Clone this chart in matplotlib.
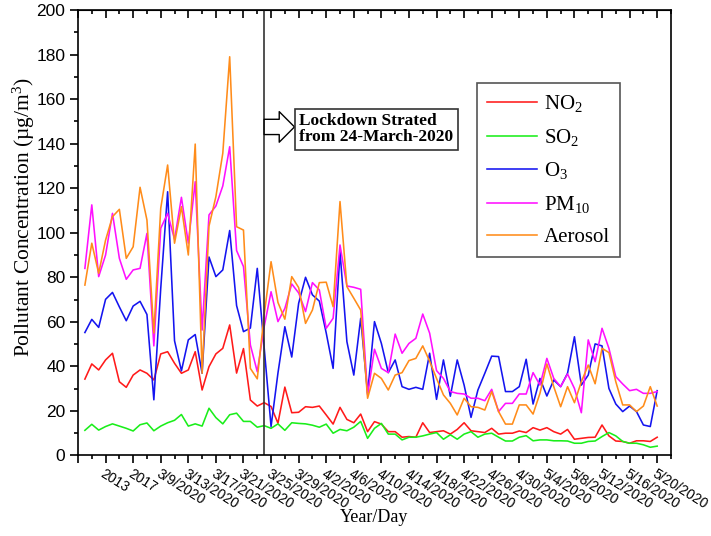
import numpy as np
import matplotlib
matplotlib.use('Agg')
import matplotlib.pyplot as plt
from matplotlib.ticker import MultipleLocator

plt.rcParams['font.family'] = 'Liberation Sans'
plt.rcParams['mathtext.fontset'] = 'custom'
plt.rcParams['mathtext.rm'] = 'Liberation Serif'
plt.rcParams['mathtext.it'] = 'Liberation Serif:italic'

# x tick labels, one every 4 points (first tick has no label)
tick_labels = ['', '2013', '2017', '3/9/2020', '3/13/2020', '3/17/2020', '3/21/2020',
               '3/25/2020', '3/29/2020', '4/2/2020', '4/6/2020', '4/10/2020',
               '4/14/2020', '4/18/2020', '4/22/2020', '4/26/2020', '4/30/2020',
               '5/4/2020', '5/8/2020', '5/12/2020', '5/16/2020', '5/20/2020']
lockdown_idx = 27  # 24-March-2020

no2 = [34.3, 41.1, 38.4, 42.9, 45.9, 33.1, 30.6, 36.1, 38.4, 36.9, 33.9, 45.6,
       46.6, 41.4, 36.9, 38.4, 46.6, 29.4, 39.9, 45.6, 48.1, 58.6, 37.0, 48.0,
       24.9, 22.2, 23.7, 22.0, 14.5, 30.7, 19.2, 19.4, 21.9, 21.6, 22.2, 18.2,
       14.1, 21.6, 16.2, 14.7, 18.6, 10.7, 15.2, 14.1, 10.7, 10.7, 8.2, 8.5,
       8.2, 14.7, 10.3, 10.7, 11.1, 9.6, 11.7, 14.7, 11.1, 10.7, 10.3, 12.2,
       9.6, 10.0, 10.0, 11.0, 10.3, 12.5, 11.4, 12.5, 10.7, 9.6, 11.7, 7.3,
       7.7, 8.1, 8.2, 13.7, 8.8, 6.5, 6.3, 5.5, 6.6, 6.6, 6.3, 8.2]
so2 = [11.3, 14.0, 11.4, 13.0, 14.2, 13.2, 12.2, 11.0, 13.8, 14.6, 11.1, 13.2,
       14.7, 15.8, 18.4, 13.2, 14.2, 13.2, 21.2, 17.0, 14.2, 18.3, 19.0, 15.3,
       15.3, 12.7, 13.4, 12.2, 14.2, 11.3, 14.7, 14.4, 14.2, 13.6, 12.7, 14.1,
       10.0, 11.7, 11.1, 12.7, 15.3, 7.7, 12.2, 14.4, 9.6, 9.6, 7.0, 8.2,
       8.2, 8.8, 9.6, 10.3, 7.3, 9.3, 7.3, 9.6, 10.7, 8.2, 9.6, 10.0,
       8.2, 6.5, 6.5, 8.2, 8.9, 6.6, 7.0, 7.0, 6.6, 6.6, 6.5, 5.5,
       5.5, 6.3, 6.5, 8.5, 10.3, 8.8, 6.3, 5.5, 5.5, 4.8, 3.7, 4.2]
o3 = [55.2, 61.1, 57.5, 70.1, 73.2, 66.7, 60.5, 67.1, 69.2, 63.3, 25.0, 75.0,
      118.4, 51.5, 38.0, 51.9, 54.3, 36.9, 89.1, 80.3, 83.3, 101.0, 67.3, 55.6,
      57.2, 84.0, 48.5, 13.0, 37.0, 57.8, 44.2, 68.3, 80.0, 72.1, 69.3, 55.0,
      39.1, 91.5, 51.1, 36.1, 61.6, 27.9, 60.1, 50.3, 37.2, 42.9, 30.9, 29.7,
      30.6, 29.7, 45.9, 25.2, 42.9, 26.6, 42.9, 31.6, 17.1, 29.4, 36.9, 44.6,
      44.4, 28.7, 28.7, 30.9, 43.2, 23.1, 34.6, 26.7, 33.9, 30.9, 36.9, 53.3,
      31.6, 36.1, 50.1, 49.2, 30.1, 23.1, 19.7, 22.2, 19.7, 13.7, 13.0, 29.1]
pm10 = [84.0, 112.5, 80.3, 90.0, 108.7, 88.5, 79.1, 83.3, 84.0, 99.7, 49.2, 102.0,
        108.7, 97.0, 115.9, 95.3, 122.9, 56.3, 108.0, 112.0, 121.0, 138.6, 92.0, 84.8,
        49.6, 37.6, 57.8, 73.5, 60.1, 66.0, 77.0, 73.0, 64.6, 77.6, 74.3, 57.1,
        61.6, 94.5, 76.1, 75.5, 74.6, 27.2, 47.7, 39.1, 37.2, 54.5, 45.9, 50.3,
        52.6, 63.5, 54.9, 38.1, 34.6, 28.7, 27.9, 27.6, 25.7, 25.7, 24.6, 29.7,
        19.7, 23.4, 23.4, 27.6, 27.6, 37.2, 31.6, 43.6, 34.6, 30.9, 36.6, 30.1,
        19.2, 51.9, 42.1, 57.1, 48.1, 35.4, 32.1, 29.1, 29.7, 27.9, 27.9, 28.7]
aerosol = [76.5, 95.3, 81.8, 96.7, 107.2, 110.5, 88.5, 93.7, 120.4, 105.7, 55.0, 111.0,
           130.4, 95.3, 111.7, 90.0, 139.8, 36.9, 103.0, 116.2, 135.7, 179.0, 102.7, 101.2,
           39.1, 34.4, 63.1, 87.0, 68.7, 61.2, 80.3, 75.4, 59.3, 65.3, 77.6, 77.8,
           66.8, 114.0, 75.8, 70.6, 65.3, 25.7, 36.9, 34.6, 29.4, 36.1, 37.2, 42.6,
           43.6, 49.2, 42.3, 34.6, 27.2, 23.4, 18.2, 25.7, 21.9, 21.6, 20.4, 28.7,
           19.7, 14.1, 14.1, 22.7, 22.7, 18.6, 27.9, 41.1, 30.9, 21.9, 30.9, 23.7,
           33.1, 40.6, 32.2, 48.1, 46.2, 33.1, 22.7, 22.7, 19.7, 22.2, 30.9, 22.2]

series = [(r'NO$_2$', no2, '#ff1a1a'),
          (r'SO$_2$', so2, '#1aee1a'),
          (r'O$_3$', o3, '#1414f0'),
          (r'PM$_{10}$', pm10, '#ff10ff'),
          ('Aerosol', aerosol, '#ff8c1a')]

x = np.arange(1, len(no2) + 1)
serif = 'Liberation Serif'

fig = plt.figure(figsize=(7.11, 5.36), dpi=100)
ax = fig.add_axes([0.1097, 0.1502, 0.834, 0.8312])

for name, vals, col in series:
    ax.plot(x, vals, color=col, lw=1.15, label=name)

ax.set_xlim(0, 86)
ax.set_ylim(0, 200)
major = np.arange(0, 4 * len(tick_labels), 4)
ax.set_xticks(major)
ax.set_xticklabels(tick_labels, rotation=-32, ha='left', va='top',
                   rotation_mode='anchor', fontsize=10)
ax.xaxis.set_minor_locator(MultipleLocator(2))
ax.yaxis.set_major_locator(MultipleLocator(20))
ax.yaxis.set_minor_locator(MultipleLocator(10))
ax.tick_params(axis='x', which='major', length=6, width=1.2, pad=2)
ax.tick_params(axis='x', which='minor', length=3, width=1.2)
ax.tick_params(axis='y', which='major', length=6, width=1.2, labelsize=12.5, pad=3)
ax.tick_params(axis='y', which='minor', length=3, width=1.2)
for sp in ax.spines.values():
    sp.set_linewidth(1.2)

top = ax.secondary_xaxis('top')
top.set_xticks(major)
top.xaxis.set_minor_locator(MultipleLocator(2))
top.tick_params(which='major', direction='in', length=6, width=1.2, labeltop=False)
top.tick_params(which='minor', direction='in', length=3, width=1.2)

ax.set_xlabel('Year/Day', family=serif, fontsize=13)
ax.xaxis.set_label_coords(0.5, -0.119)
ax.set_ylabel(r'Pollutant Concentration (µg/m$^3$)', family=serif, fontsize=15.5,
              va='center')
ax.yaxis.set_label_coords(-0.091, 0.535)

# lockdown marker
ax.axvline(lockdown_idx, color='#333333', lw=1.2)
ax.annotate('', xy=(lockdown_idx + 4.4, 147.5), xytext=(lockdown_idx, 147.5),
            arrowprops=dict(arrowstyle='simple,head_length=1.1,head_width=2.2,tail_width=1.1',
                            fc='white', ec='black', lw=1, shrinkA=0, shrinkB=0,
                            mutation_scale=10))
ax.text(lockdown_idx + 5.1, 146.5, 'Lockdown Strated\nfrom 24-March-2020',
        family=serif, weight='bold', fontsize=12.5, va='center', ha='left',
        linespacing=1.05,
        bbox=dict(boxstyle='square,pad=0.25', fc='white', ec='#333333', lw=1.2))

leg = ax.legend(loc='upper left', bbox_to_anchor=(0.673, 0.836),
                prop={'family': serif, 'size': 15}, frameon=True, fancybox=False,
                edgecolor='#555555', framealpha=1, handlelength=2.4,
                labelspacing=0.6, borderpad=0.5, handletextpad=0.3,
                borderaxespad=0)
leg.get_frame().set_linewidth(1.2)

fig.savefig('out.png', dpi=100)
